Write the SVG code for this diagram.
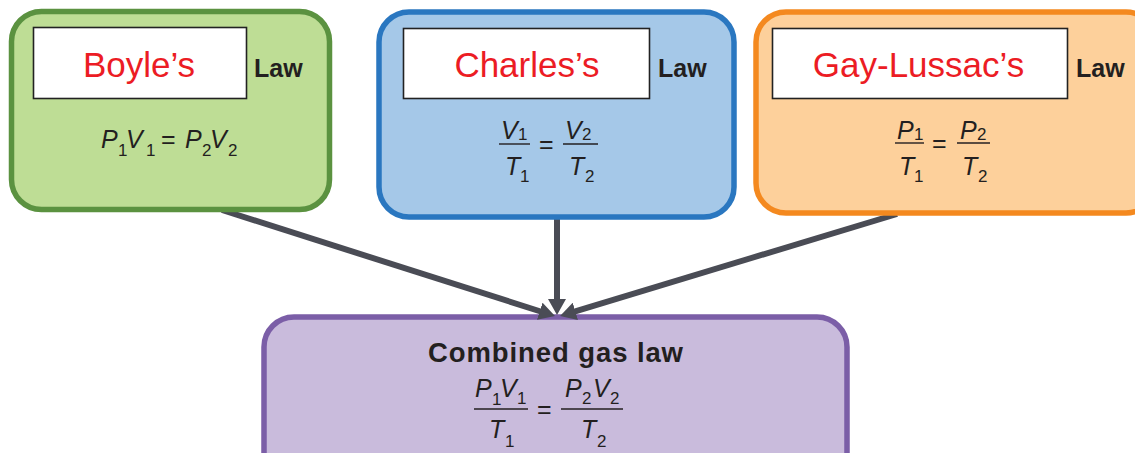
<svg xmlns="http://www.w3.org/2000/svg" width="1135" height="453" viewBox="0 0 1135 453">
<style>
.box{stroke-width:5.5}
.lbl{fill:#fff;stroke:#222;stroke-width:1.6}
.name{font-family:"Liberation Sans",Arial,sans-serif;font-size:35px;fill:#ec1c24;text-anchor:middle}
.law{font-family:"Liberation Sans",Arial,sans-serif;font-size:25px;font-weight:bold;fill:#231f20}
.title{font-size:27.5px}
.f{font-family:"Liberation Sans",Arial,sans-serif;font-size:25px;font-style:italic;fill:#231f20}
.s{font-size:17px;font-style:normal}
.eq{font-style:normal}
.fl{stroke:#231f20;stroke-width:1.4}
.conn{stroke:#4a4c55;stroke-width:6;fill:none}
</style>
<defs>
<marker id="ah" markerUnits="userSpaceOnUse" viewBox="0 0 16 18" markerWidth="16" markerHeight="18" refX="1" refY="9" orient="auto">
<path d="M0,0 L16,9 L0,18 z" fill="#4a4c55"/>
</marker>
</defs>

<g id="combined">
<rect class="box" x="264" y="317" width="583" height="170" rx="30" fill="#c9bbdc" stroke="#7b5ea7"/>
<text class="law title" x="555.5" y="362" text-anchor="middle" textLength="255" lengthAdjust="spacing">Combined gas law</text>
<text class="f"><tspan x="475" y="397">P</tspan><tspan class="s" x="492" y="405">1</tspan><tspan x="500" y="397">V</tspan><tspan class="s" x="517" y="404">1</tspan></text>
<line class="fl" x1="474" y1="409" x2="528" y2="409"/>
<text class="f"><tspan class="eq" x="537" y="418">=</tspan></text>
<text class="f"><tspan x="565" y="397">P</tspan><tspan class="s" x="582" y="404">2</tspan><tspan x="593" y="397">V</tspan><tspan class="s" x="610" y="404">2</tspan></text>
<line class="fl" x1="561" y1="409" x2="623" y2="409"/>
<text class="f"><tspan x="489" y="438">T</tspan><tspan class="s" x="505" y="447">1</tspan></text>
<text class="f"><tspan x="581" y="438">T</tspan><tspan class="s" x="597" y="447">2</tspan></text>
</g>

<g id="connectors">
<line class="conn" x1="222" y1="210" x2="540.7" y2="311.5" marker-end="url(#ah)"/>
<line class="conn" x1="557" y1="218" x2="557" y2="300" marker-end="url(#ah)"/>
<line class="conn" x1="897" y1="214" x2="574.4" y2="311.6" marker-end="url(#ah)"/>
</g>

<g id="boyle">
<rect class="box" x="11.5" y="11.5" width="318" height="198" rx="30" fill="#bedd95" stroke="#5b9240"/>
<rect class="lbl" x="33.5" y="27.5" width="213" height="71"/>
<text class="name" x="139" y="77">Boyle’s</text>
<text class="law" x="254" y="77">Law</text>
<text class="f"><tspan x="101" y="148">P</tspan><tspan class="s" x="118" y="156">1</tspan><tspan x="126" y="148">V</tspan><tspan class="s" x="146" y="156">1</tspan><tspan class="eq" x="161" y="148">=</tspan><tspan x="185" y="148">P</tspan><tspan class="s" x="202" y="156">2</tspan><tspan x="210" y="148">V</tspan><tspan class="s" x="228" y="156">2</tspan></text>
</g>

<g id="charles">
<rect class="box" x="379" y="12" width="355" height="205" rx="30" fill="#a5c8e8" stroke="#2a77c0"/>
<rect class="lbl" x="403.5" y="28.5" width="246" height="70"/>
<text class="name" x="527" y="77">Charles’s</text>
<text class="law" x="658" y="77">Law</text>
<text class="f"><tspan x="501" y="139">V</tspan><tspan class="s" x="518" y="140">1</tspan></text>
<line class="fl" x1="499" y1="144" x2="530" y2="144"/>
<text class="f"><tspan x="505" y="175">T</tspan><tspan class="s" x="520" y="182">1</tspan></text>
<text class="f"><tspan class="eq" x="539" y="153">=</tspan></text>
<text class="f"><tspan x="565" y="139">V</tspan><tspan class="s" x="582" y="140">2</tspan></text>
<line class="fl" x1="563" y1="144" x2="598" y2="144"/>
<text class="f"><tspan x="569" y="175">T</tspan><tspan class="s" x="585" y="182">2</tspan></text>
</g>

<g id="gaylussac">
<rect class="box" x="756" y="12" width="400" height="201" rx="30" fill="#fdd09b" stroke="#f4891f"/>
<rect class="lbl" x="772.5" y="28.5" width="295" height="70"/>
<text class="name" x="918.5" y="77">Gay-Lussac’s</text>
<text class="law" x="1076" y="77">Law</text>
<text class="f"><tspan x="897" y="139">P</tspan><tspan class="s" x="914" y="140">1</tspan></text>
<line class="fl" x1="895" y1="143" x2="924" y2="143"/>
<text class="f"><tspan x="899" y="175">T</tspan><tspan class="s" x="914" y="182">1</tspan></text>
<text class="f"><tspan class="eq" x="932" y="152">=</tspan></text>
<text class="f"><tspan x="960" y="139">P</tspan><tspan class="s" x="977" y="140">2</tspan></text>
<line class="fl" x1="957" y1="143" x2="990" y2="143"/>
<text class="f"><tspan x="962" y="175">T</tspan><tspan class="s" x="978" y="182">2</tspan></text>
</g>
</svg>
